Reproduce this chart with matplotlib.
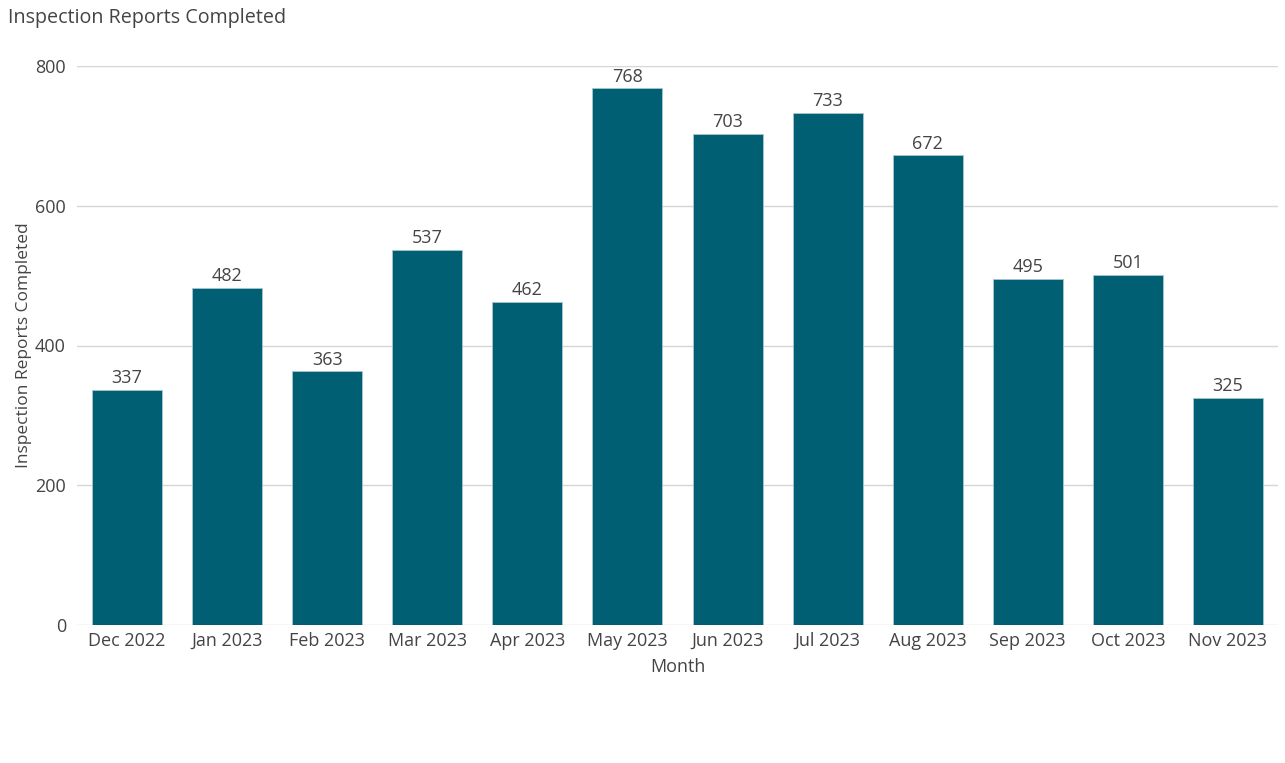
import numpy as np
import matplotlib.pyplot as plt

months = ["Dec 2022", "Jan 2023", "Feb 2023", "Mar 2023", "Apr 2023", "May 2023",
          "Jun 2023", "Jul 2023", "Aug 2023", "Sep 2023", "Oct 2023", "Nov 2023"]
reports = [337, 482, 363, 537, 462, 768, 703, 733, 672, 495, 501, 325]

plt.rcParams["font.family"] = ["Open Sans", "DejaVu Sans"]
text_color = "#444444"
grid_color = "#d6d6d6"

fig = plt.figure(figsize=(12.85, 7.63), dpi=100)
ax = fig.add_axes([77 / 1285, 1 - 625 / 763, (1278 - 77) / 1285, (625 - 66) / 763])

x = np.arange(len(months))
bars = ax.bar(x, reports, width=0.7, color="#005f73", edgecolor="#a9c6cf",
              linewidth=0.6, zorder=3)
for xi, v in zip(x, reports):
    ax.text(xi, v + 4, str(v), ha="center", va="bottom", fontsize=13,
            color=text_color, zorder=4)

ax.set_xlim(-0.5, len(months) - 0.5)
ax.set_ylim(0, 800)
ax.set_yticks([0, 200, 400, 600, 800])
ax.set_xticks(x)
ax.set_xticklabels(months)
ax.tick_params(axis="both", length=0, labelsize=13, labelcolor=text_color)
ax.tick_params(axis="x", pad=15)
ax.tick_params(axis="y", pad=8)
for lab in ax.get_xticklabels():
    lab.set_verticalalignment("baseline")
ax.grid(axis="y", color=grid_color, linewidth=1, zorder=0)
for s in ax.spines.values():
    s.set_visible(False)

ax.set_xlabel("Month", fontsize=13, color=text_color, labelpad=6)
ax.set_ylabel("Inspection Reports Completed", fontsize=12.5, color=text_color, labelpad=2)
fig.text(8 / 1285, 1 - 18 / 763, "Inspection Reports Completed", fontsize=14.2,
         color=text_color, ha="left", va="center")

fig.savefig("out.png", dpi=100)
